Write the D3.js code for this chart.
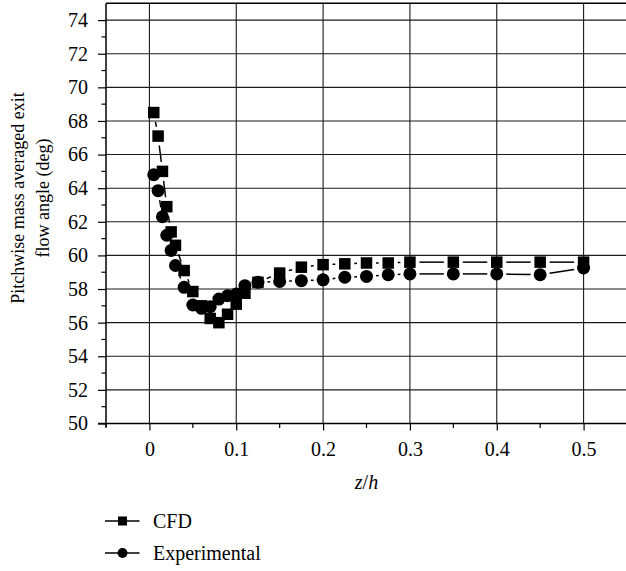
<!DOCTYPE html>
<html><head><meta charset="utf-8">
<script src="https://cdn.jsdelivr.net/npm/d3@7"></script>
<style>
html,body{margin:0;padding:0;background:#fff;}
svg{display:block;font-family:"Liberation Serif","Times New Roman",serif;}
</style>
</head><body>
<svg id="chart" width="626" height="571"></svg>
<script>
// ---- data ----
const zh = [0.005,0.010,0.015,0.020,0.025,0.030,0.040,0.050,0.060,0.070,0.080,0.090,0.100,0.110,0.125,0.150,0.175,0.200,0.225,0.250,0.275,0.300,0.350,0.400,0.450,0.500];
const cfd = [68.5,67.1,65.0,62.9,61.4,60.6,59.1,57.85,57.0,56.25,56.0,56.5,57.1,57.75,58.4,58.95,59.3,59.45,59.5,59.55,59.55,59.6,59.6,59.6,59.6,59.6];
const experimental = [64.8,63.85,62.3,61.2,60.3,59.4,58.1,57.05,56.85,56.95,57.4,57.6,57.7,58.2,58.4,58.45,58.5,58.55,58.7,58.75,58.85,58.9,58.9,58.9,58.85,59.25];
const seriesNames = ["CFD","Experimental"];
const xMajorTicks = [0,0.1,0.2,0.3,0.4,0.5];
const xTickLabels = ["0","0.1","0.2","0.3","0.4","0.5"];
const xMinorTicks = [-0.05,0.05,0.15,0.25,0.35,0.45,0.55];
const yMajorTicks = [50,52,54,56,58,60,62,64,66,68,70,72,74];
const yMinorTicks = [51,53,55,57,59,61,63,65,67,69,71,73];
const yTitleLines = ["Pitchwise mass averaged exit","flow angle (deg)"];

// ---- layout ----
const L = 106, R = 627, T = 3.3, B = 423.5;
const FS = 20, FS_T = 18;
const svg = d3.select("#chart");
const x = d3.scaleLinear().domain([-0.05,0.55]).range([L,R]);
const y = d3.scaleLinear().domain([50,75]).range([B,T]);
const ink = "#000";

// gridlines
svg.append("g").selectAll("line").data(yMajorTicks.filter(v=>v>50)).join("line")
  .attr("x1",L).attr("x2",R).attr("y1",d=>y(d)).attr("y2",d=>y(d))
  .attr("stroke","#1a1a1a").attr("stroke-width",1.1);
svg.append("g").selectAll("line").data(xMajorTicks).join("line")
  .attr("x1",d=>x(d)).attr("x2",d=>x(d)).attr("y1",T).attr("y2",B)
  .attr("stroke","#1a1a1a").attr("stroke-width",1.1);

// top border
svg.append("line").attr("x1",L).attr("x2",R).attr("y1",T).attr("y2",T)
  .attr("stroke",ink).attr("stroke-width",1.5);

// y axis
const yAxis = d3.axisLeft(y).tickValues(yMajorTicks).tickSize(8).tickPadding(10)
  .tickFormat(d3.format("d"));
const gy = svg.append("g").attr("transform",`translate(${L},0)`).call(yAxis);
gy.select(".domain").remove();
gy.selectAll("line").attr("stroke",ink).attr("stroke-width",1.2);
gy.selectAll("text").attr("font-size",FS).attr("font-family","Liberation Serif, serif").attr("fill",ink);
svg.append("g").selectAll("line").data(yMinorTicks).join("line")
  .attr("x1",L-4.5).attr("x2",L).attr("y1",d=>y(d)).attr("y2",d=>y(d))
  .attr("stroke",ink).attr("stroke-width",1.2);
svg.append("line").attr("x1",L).attr("x2",L).attr("y1",T).attr("y2",B+3.5)
  .attr("stroke",ink).attr("stroke-width",1.5);

// x axis
const xAxis = d3.axisBottom(x).tickValues(xMajorTicks).tickSize(7).tickPadding(11)
  .tickFormat((d,i)=>xTickLabels[i]);
const gx = svg.append("g").attr("transform",`translate(0,${B})`).call(xAxis);
gx.select(".domain").remove();
gx.selectAll("line").attr("stroke",ink).attr("stroke-width",1.2);
gx.selectAll("text").attr("font-size",FS).attr("font-family","Liberation Serif, serif").attr("fill",ink);
svg.append("g").selectAll("line").data(xMinorTicks).join("line")
  .attr("x1",d=>x(d)).attr("x2",d=>x(d)).attr("y1",B).attr("y2",B+4.5)
  .attr("stroke",ink).attr("stroke-width",1.2);
svg.append("line").attr("x1",L-8).attr("x2",R).attr("y1",B).attr("y2",B)
  .attr("stroke",ink).attr("stroke-width",1.5);

// axis titles
const xt = svg.append("text").attr("x",(L+R)/2).attr("y",489).attr("text-anchor","middle")
  .attr("font-size",FS).attr("font-style","italic").attr("fill",ink);
xt.append("tspan").text("z");
xt.append("tspan").attr("font-style","normal").text("/");
xt.append("tspan").text("h");

const yt = svg.append("g").attr("transform","rotate(-90)");
yt.selectAll("text").data(yTitleLines).join("text")
  .attr("x",-198).attr("y",(d,i)=>24+i*25).attr("text-anchor","middle")
  .attr("font-size",FS_T).attr("fill",ink).text(d=>d);

// series lines (with gap to symbol)
const GAP = 9.5;
function drawSeries(vals){
  const pts = zh.map((z,i)=>[x(z),y(vals[i])]);
  const segs = [];
  for(let i=0;i<pts.length-1;i++){
    const [x1,y1]=pts[i],[x2,y2]=pts[i+1];
    const d=Math.hypot(x2-x1,y2-y1);
    if(d>2*GAP+0.5){
      const ux=(x2-x1)/d, uy=(y2-y1)/d;
      segs.push([x1+ux*GAP,y1+uy*GAP,x2-ux*GAP,y2-uy*GAP]);
    }
  }
  svg.append("g").selectAll("line").data(segs).join("line")
    .attr("x1",d=>d[0]).attr("y1",d=>d[1]).attr("x2",d=>d[2]).attr("y2",d=>d[3])
    .attr("stroke",ink).attr("stroke-width",1.5);
}
drawSeries(cfd);
drawSeries(experimental);

const SQ = 11.5, CR = 6.5;
svg.append("g").selectAll("rect").data(zh).join("rect")
  .attr("x",(d)=>x(d)-SQ/2).attr("y",(d,i)=>y(cfd[i])-SQ/2)
  .attr("width",SQ).attr("height",SQ).attr("fill",ink);
svg.append("g").selectAll("circle").data(zh).join("circle")
  .attr("cx",d=>x(d)).attr("cy",(d,i)=>y(experimental[i])).attr("r",CR).attr("fill",ink);

// legend
const legY = [521,553];
const lg = svg.append("g");
legY.forEach((ly,i)=>{
  lg.append("line").attr("x1",105).attr("x2",139.5).attr("y1",ly).attr("y2",ly)
    .attr("stroke",ink).attr("stroke-width",1.5);
  if(i===0){
    lg.append("rect").attr("x",122.5-4.5).attr("y",ly-4.5).attr("width",9).attr("height",9).attr("fill",ink);
  } else {
    lg.append("circle").attr("cx",122.5).attr("cy",ly).attr("r",5).attr("fill",ink);
  }
  lg.append("text").attr("x",153).attr("y",ly+7).attr("font-size",FS).attr("fill",ink).text(seriesNames[i]);
});
</script>
</body></html>
